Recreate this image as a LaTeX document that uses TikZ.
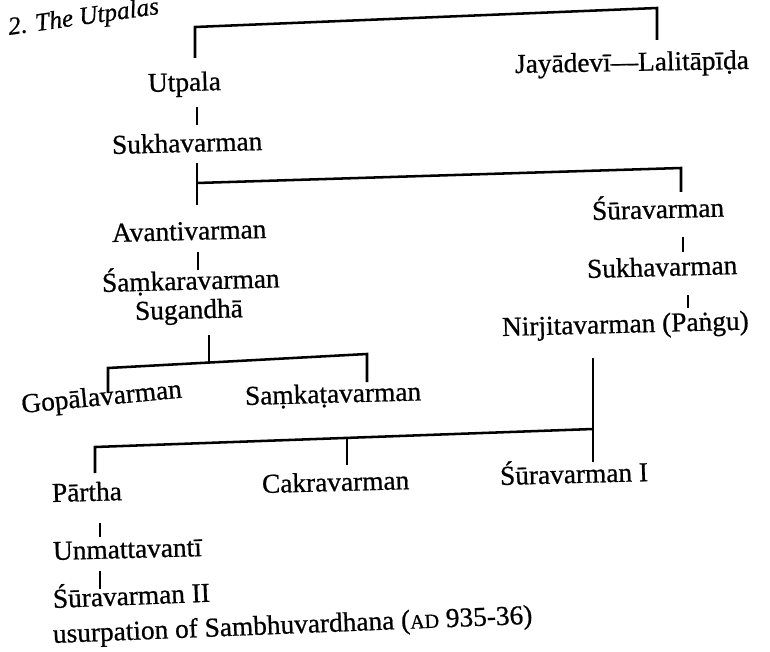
\documentclass[tikz,border=0pt]{standalone}
\usepackage{fontspec}
\setmainfont{Liberation Serif}[FakeBold=0.7]
\begin{document}
\begin{tikzpicture}[x=0.75pt,y=-0.75pt,
  person/.style={anchor=base west, inner sep=0pt, font=\fontsize{20.5}{24}\selectfont, rotate=1.5},
  link/.style={line width=1.9pt, line join=miter}]
\useasboundingbox (0,0) rectangle (770,652);

% heading
\node[anchor=base west, inner sep=0pt, rotate=8,
      font=\fontsize{19}{22}\selectfont\itshape] (title) at (9,35) {2. The Utpalas};

% people
\node[person] (utpala)  at (148,92)  {Utpala};
\node[person] (sukhaA)  at (112,154) {Sukhavarman};
\node[person, rotate=-0.5] (jaya) at (515,73) {Jayādevī—Lalitāpīḍa};
\node[person] (avanti)  at (112,242) {Avantivarman};
\node[person] (samkara) at (102,292) {Śaṃkaravarman};
\node[person] (sugan)   at (135,320) {Sugandhā};
\node[person, rotate=4] (gopala) at (22,413) {Gopālavarman};
\node[person] (samkata) at (245,405) {Saṃkaṭavarman};
\node[person, rotate=0] (suraA)  at (592,220) {Śūravarman};
\node[person, rotate=0] (sukhaB) at (587,278) {Sukhavarman};
\node[person, rotate=0] (nirjita) at (502,336) {Nirjitavarman (Paṅgu)};
\node[person] (partha)  at (52,502)  {Pārtha};
\node[person] (cakra)   at (262,493) {Cakravarman};
\node[person, rotate=0] (suraI) at (500,485) {Śūravarman I};
\node[person] (unmatta) at (53,560)  {Unmattavantī};
\node[person, rotate=0.8] (suraII) at (53,608) {Śūravarman II};
\node[person, rotate=0.8] (usurp) at (53,643)
  {usurpation of Sambhuvardhana ({\fontsize{15}{18}\selectfont AD} 935-36)};

% junction points of the family lines
\coordinate (t1) at (195,58);  \coordinate (t2) at (195,27);
\coordinate (t3) at (657,8);   \coordinate (t4) at (657,40);

\coordinate (u1) at (197,107); \coordinate (u2) at (197,125);

\coordinate (s1) at (197,163); \coordinate (s2) at (197,205);
\coordinate (s3) at (197,183); \coordinate (s4) at (681,168);
\coordinate (s5) at (681,192);

\coordinate (a1) at (198,252); \coordinate (a2) at (198,270);

\coordinate (g1) at (209,335); \coordinate (g2) at (209,362);
\coordinate (g3) at (108,368); \coordinate (g4) at (367,354);
\coordinate (g5) at (108,393); \coordinate (g6) at (367,382);

\coordinate (r1) at (683,237); \coordinate (r2) at (683,252);
\coordinate (r3) at (688,295); \coordinate (r4) at (688,308);

\coordinate (n1) at (593,358); \coordinate (n2) at (593,462);
\coordinate (n3) at (95,447);  \coordinate (n4) at (593,429);
\coordinate (n5) at (95,473);
\coordinate (c1) at (347,438); \coordinate (c2) at (347,465);

\coordinate (p1) at (100,523); \coordinate (p2) at (100,537);
\coordinate (q1) at (100,571); \coordinate (q2) at (100,589);

% lines
\draw[link] (t1) -- (t2) -- (t3) -- (t4);
\draw[link] (u1) -- (u2);
\draw[link] (s1) -- (s2);
\draw[link] (s3) -- (s4) -- (s5);
\draw[link] (a1) -- (a2);
\draw[link] (g1) -- (g2);
\draw[link] (g5) -- (g3) -- (g4) -- (g6);
\draw[link] (r1) -- (r2);
\draw[link] (r3) -- (r4);
\draw[link] (n1) -- (n2);
\draw[link] (n5) -- (n3) -- (n4);
\draw[link] (c1) -- (c2);
\draw[link] (p1) -- (p2);
\draw[link] (q1) -- (q2);
\end{tikzpicture}
\end{document}
